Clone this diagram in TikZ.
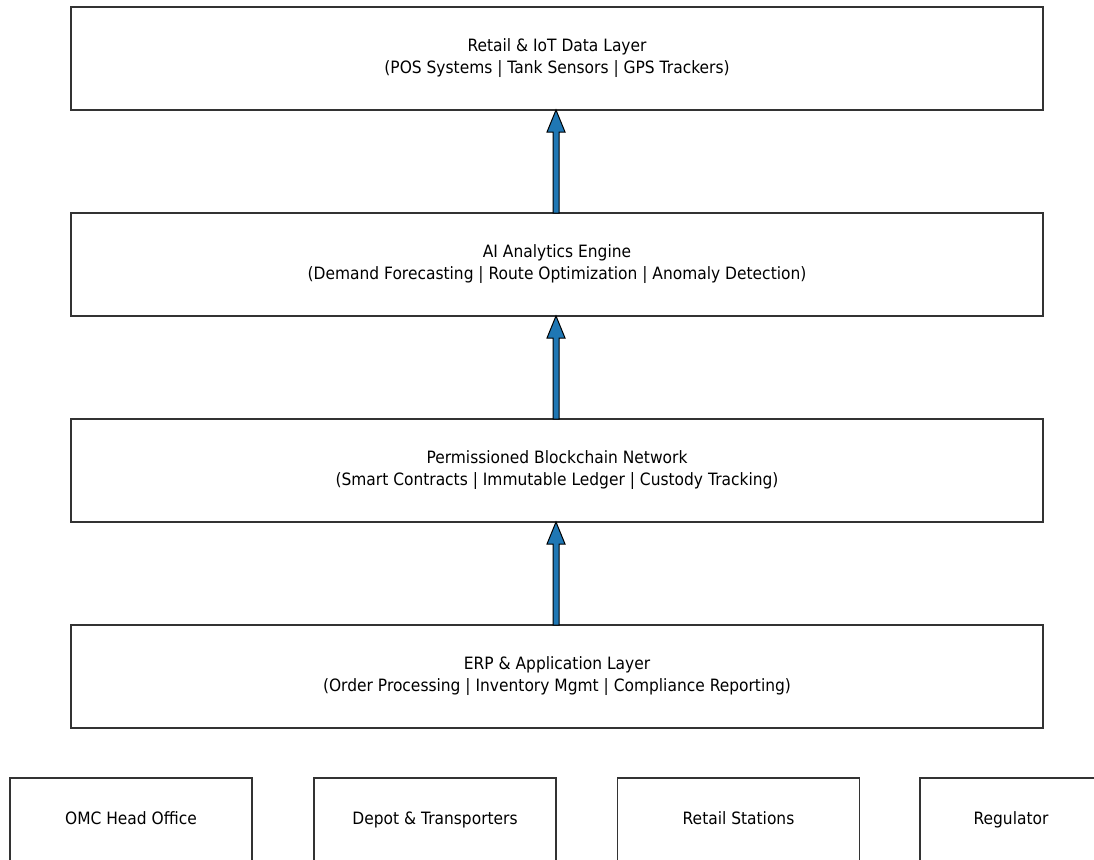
\documentclass[tikz,border=0pt]{standalone}
\usepackage{fontspec}
\setmainfont{DejaVu Sans}[FakeStretch=0.91]
\usetikzlibrary{calc}
\definecolor{mplblue}{HTML}{1F77B4}
\definecolor{boxline}{HTML}{333333}
\tikzset{
  layerbox/.style={draw=boxline, line width=1.5pt, minimum width=972pt, minimum height=103pt, outer sep=0pt, align=center, font=\fontsize{17}{22}\selectfont, inner sep=0pt},
  actorbox/.style={draw=boxline, line width=1.5pt, minimum width=242pt, minimum height=110pt, outer sep=0pt},
  actortext/.style={font=\fontsize{17}{20}\selectfont, inner sep=0pt, anchor=base},
  flowarrow/.style={fill=mplblue, draw=black, line width=1pt, line join=miter},
}
\begin{document}
\begin{tikzpicture}[x=1pt,y=1pt]
\useasboundingbox (0,0) rectangle (1094,-859);
\clip (0,0) rectangle (1094,-859);
\node[layerbox] (iot) at (557,-58.5) {Retail \& IoT Data Layer\\(POS Systems | Tank Sensors | GPS Trackers)};
\node[layerbox] (ai) at (557,-264.5) {AI Analytics Engine\\(Demand Forecasting | Route Optimization | Anomaly Detection)};
\node[layerbox] (bc) at (557,-470.5) {Permissioned Blockchain Network\\(Smart Contracts | Immutable Ledger | Custody Tracking)};
\node[layerbox] (erp) at (557,-676.5) {ERP \& Application Layer\\(Order Processing | Inventory Mgmt | Compliance Reporting)};

\node[actorbox] (omc) at (131,-833) {};
\node[actortext] (omct) at (131,-824) {OMC Head Office};
\node[actorbox] (depot) at (435,-833) {};
\node[actortext] (depott) at (435,-824) {Depot \& Transporters};
\node[actorbox] (retail) at (738.5,-833) {};
\node[actortext] (retailt) at (738.5,-824) {Retail Stations};
\node[actorbox] (reg) at (1041,-833) {};
\node[actortext] (regt) at (1011,-824) {Regulator};

\foreach \lo/\hi in {erp/bc, bc/ai, ai/iot}{
  \draw[flowarrow] let \p1=(\lo.north), \p2=(\hi.south) in
    (\x1-4,\y1) -- (\x1-4,\y2-22) -- (\x1-10,\y2-22) -- (\x1-1,\y2) -- (\x1+8,\y2-22) -- (\x1+2,\y2-22) -- (\x1+2,\y1) -- cycle;
}
\end{tikzpicture}
\end{document}
